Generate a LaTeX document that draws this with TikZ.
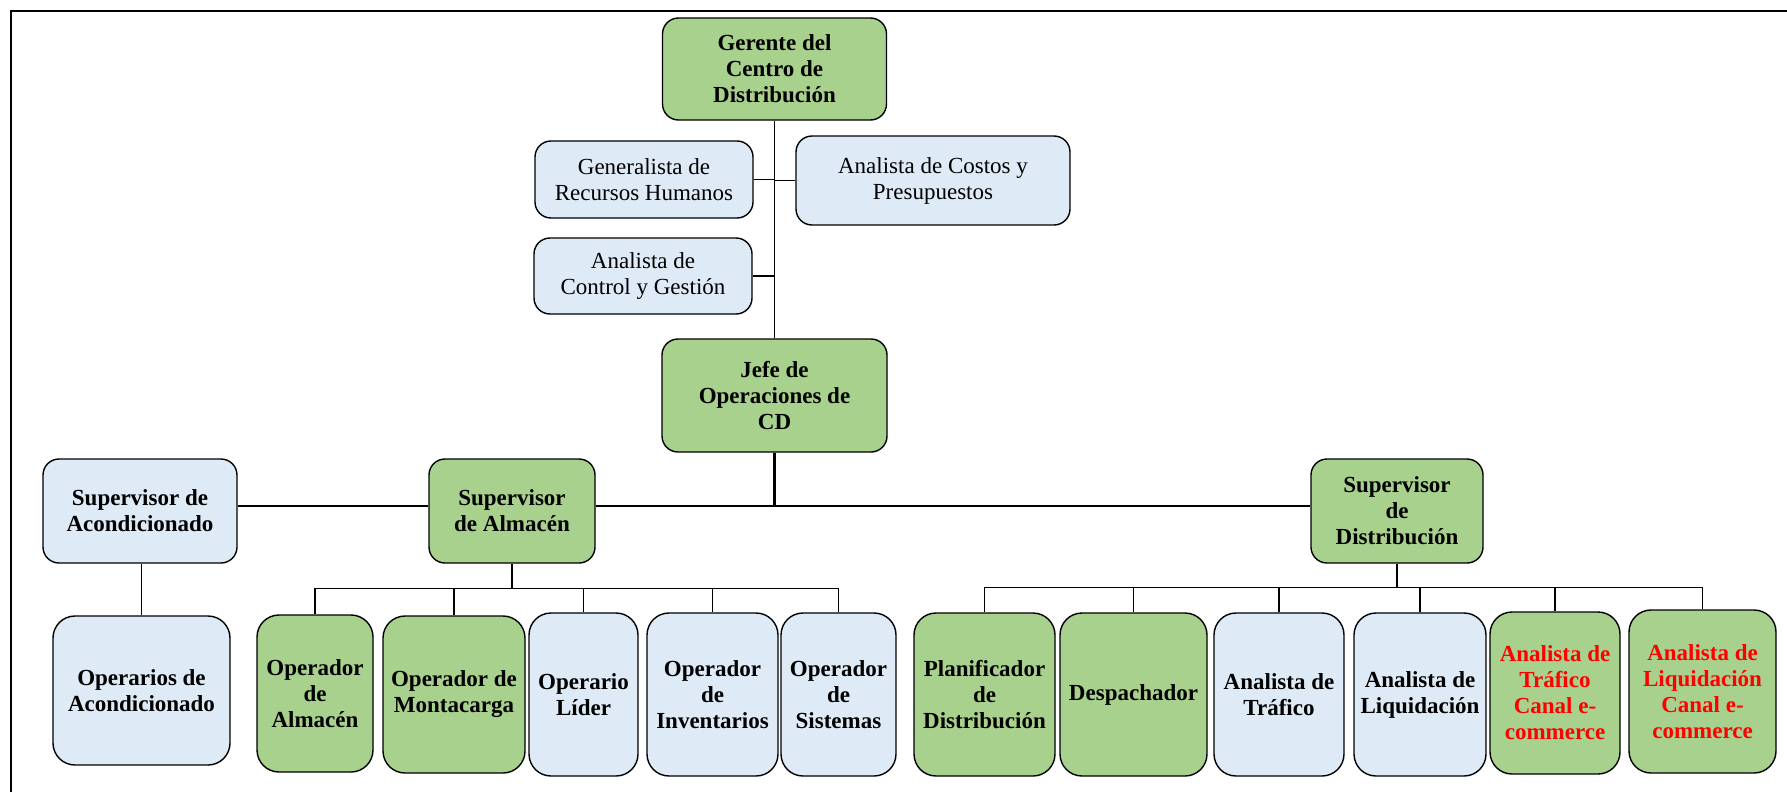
\documentclass[tikz,border=0pt]{standalone}
\usepackage{fontspec}
\setmainfont{Liberation Serif}
\definecolor{grn}{HTML}{A9D18E}
\definecolor{blu}{HTML}{DEEBF7}
\definecolor{redtxt}{HTML}{FF0000}
\newcommand\orgfont{\fontsize{23}{26}\selectfont}
\tikzset{
  box/.style={draw=black, line width=1.4pt, rounded corners=16pt, align=center, inner sep=2pt, font=\orgfont},
  gbox/.style={box, fill=grn, font=\orgfont\bfseries},
  bbox/.style={box, fill=blu, font=\orgfont\bfseries},
  sbox/.style={box, fill=blu},
  leaf/.style={rounded corners=22pt},
  link/.style={draw=black, line width=1.3pt},
  trunk/.style={draw=black, line width=2.6pt},
}
\begin{document}
\begin{tikzpicture}[x=1pt,y=-1pt]
\useasboundingbox (0,0) rectangle (1787,792);
% outer frame (top and left edges only)
\draw[line width=2pt] (11,792) -- (11,11) -- (1787,11);

% top management and staff
\node[gbox, minimum width=224, minimum height=102] (ger) at (774.5,69) {Gerente del\\Centro de\\Distribución};
\node[sbox, minimum width=218, minimum height=77] (gen) at (644,179.5) {Generalista de\\Recursos Humanos};
\node[sbox, minimum width=274, minimum height=89] (cos) at (933,180.5) {Analista de Costos y\\Presupuestos};
\node[sbox, minimum width=218, minimum height=76] (ctl) at (643,276) {Analista de\\Control y Gestión};
\node[gbox, minimum width=225, minimum height=113] (jefe) at (774.5,395.5) {Jefe de\\Operaciones de\\CD};

% supervisors
\node[bbox, minimum width=194, minimum height=104] (sacond) at (140,511) {Supervisor de\\Acondicionado};
\node[gbox, minimum width=166, minimum height=104] (salm) at (512,511) {Supervisor\\de Almacén};
\node[gbox, minimum width=172, minimum height=104] (sdist) at (1397,511) {Supervisor\\de\\Distribución};

% operational staff
\node[bbox, leaf, minimum width=177, minimum height=149] (opacond) at (141.5,690.5) {Operarios de\\Acondicionado};
\node[gbox, leaf, minimum width=116, minimum height=157] (opalm) at (315,693.5) {Operador\\de\\Almacén};
\node[gbox, leaf, minimum width=142, minimum height=157] (opmont) at (454,694.5) {Operador de\\Montacarga};
\node[bbox, leaf, minimum width=109, minimum height=163] (oplid) at (583.5,694.5) {Operario\\Líder};
\node[bbox, leaf, minimum width=131, minimum height=163] (opinv) at (712.5,694.5) {Operador\\de\\Inventarios};
\node[bbox, leaf, minimum width=115, minimum height=163] (opsis) at (838.5,694.5) {Operador\\de\\Sistemas};
\node[gbox, leaf, minimum width=141, minimum height=163] (plan) at (984.5,694.5) {Planificador\\de\\Distribución};
\node[gbox, leaf, minimum width=147, minimum height=163] (desp) at (1133.5,694.5) {Despachador};
\node[bbox, leaf, minimum width=130, minimum height=163] (atraf) at (1279,694.5) {Analista de\\Tráfico};
\node[bbox, leaf, minimum width=132, minimum height=163] (aliq) at (1420,694.5) {Analista de\\Liquidación};
\node[gbox, leaf, text=redtxt, minimum width=130, minimum height=162] (atre) at (1555,693) {Analista de\\Tráfico\\Canal e-\\commerce};
\node[gbox, leaf, text=redtxt, minimum width=147, minimum height=163] (alqe) at (1702.5,691.5) {Analista de\\Liquidación\\Canal e-\\commerce};

% reporting lines: top level
\draw[link] (ger.south) -- (jefe.north);
\draw[link] (gen.east) -- (gen.east -| ger.south);
\draw[link] (cos.west) -- (cos.west -| ger.south);
\draw[link] (ctl.east) -- (ctl.east -| ger.south);

% reporting lines: supervisors
\coordinate (bar) at (0,506);
\coordinate (jbar) at (jefe.south |- bar);
\draw[trunk] (jefe.south) -- (jbar);
\draw[link] (sacond.east |- bar) -- (salm.west |- bar);
\draw[link] (salm.east |- bar) -- (sdist.west |- bar);
\draw[link] (opacond.north) -- (opacond.north |- sacond.south);

% warehouse team
\coordinate (abar) at ([yshift=-25pt]salm.south);
\draw[trunk] (salm.south) -- (abar);
\foreach \n in {opalm,opmont,oplid,opinv,opsis}
  \draw[link] (\n.north) |- (abar);

% distribution team
\coordinate (dbar) at ([yshift=-24pt]sdist.south);
\draw[trunk] (sdist.south) -- (dbar);
\foreach \n in {plan,desp,atraf,aliq,atre,alqe}
  \draw[link] (\n.north) |- (dbar);
\end{tikzpicture}
\end{document}
